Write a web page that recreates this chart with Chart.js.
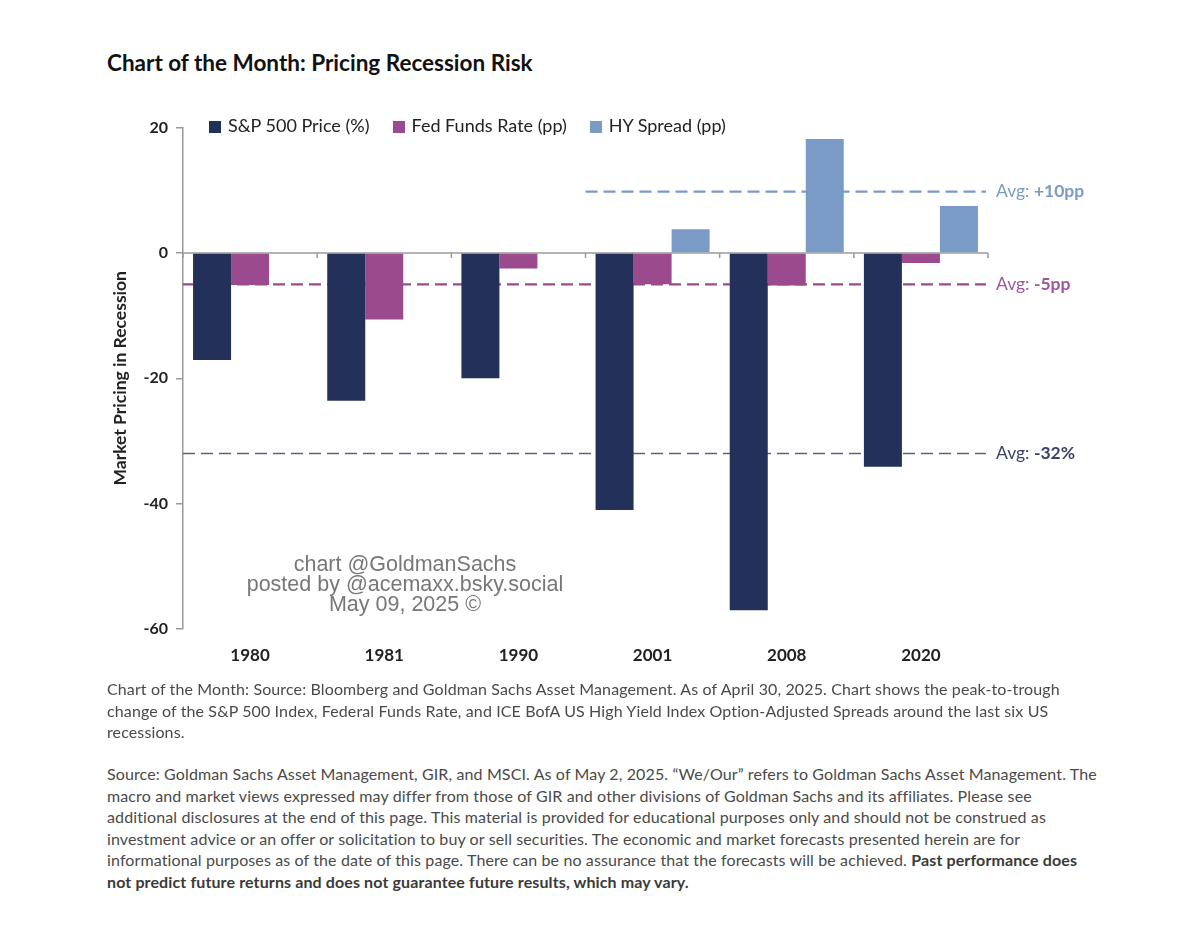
<!DOCTYPE html>
<html>
<head>
<meta charset="utf-8">
<script src="https://cdn.jsdelivr.net/npm/chart.js@4.4.1/dist/chart.umd.min.js"></script>
<style>
  html,body{margin:0;padding:0;background:#fff;}
  body{width:1199px;height:933px;position:relative;overflow:hidden;font-family:Lato,"Open Sans",sans-serif;}
  #title{position:absolute;left:107px;top:49px;font-size:22.5px;font-weight:700;color:#111;white-space:nowrap;line-height:28px;}
  #wrap{position:absolute;left:100px;top:110px;width:1000px;height:570px;}
  #legend{position:absolute;left:209px;top:113px;font-size:18px;color:#222;white-space:nowrap;line-height:24px;}
  #legend span.item{display:inline-block;margin-right:23px;}
  #legend span.sw{display:inline-block;width:12px;height:12px;margin-right:7px;vertical-align:-1px;}
  #wm{position:absolute;left:205px;top:554px;width:400px;text-align:center;font-family:"Liberation Sans",Arial,sans-serif;font-size:21.5px;line-height:20px;color:#777;}
  .cap{position:absolute;left:107px;font-size:16px;letter-spacing:0.12px;line-height:21.5px;color:#4a4a4a;white-space:nowrap;}
  .cap b{color:#3a3a3a;}
</style>
</head>
<body>
<div id="title">Chart of the Month: Pricing Recession Risk</div>
<div id="wrap"><canvas id="c"></canvas></div>
<div id="legend"></div>
<div id="wm">chart @GoldmanSachs<br>posted by @acemaxx.bsky.social<br>May 09, 2025 ©</div>
<div class="cap" id="cap1" style="top:678px;">Chart of the Month: Source: Bloomberg and Goldman Sachs Asset Management. As of April 30, 2025. Chart shows the peak-to-trough<br>change of the S&amp;P 500 Index, Federal Funds Rate, and ICE BofA US High Yield Index Option-Adjusted Spreads around the last six US<br>recessions.</div>
<div class="cap" id="cap2" style="top:763px;">Source: Goldman Sachs Asset Management, GIR, and MSCI. As of May 2, 2025. “We/Our” refers to Goldman Sachs Asset Management. The<br>macro and market views expressed may differ from those of GIR and other divisions of Goldman Sachs and its affiliates. Please see<br>additional disclosures at the end of this page. This material is provided for educational purposes only and should not be construed as<br>investment advice or an offer or solicitation to buy or sell securities. The economic and market forecasts presented herein are for<br>informational purposes as of the date of this page. There can be no assurance that the forecasts will be achieved. <b>Past performance does<br>not predict future returns and does not guarantee future results, which may vary.</b></div>
<script>
// ---- data ----
const categories = ['1980', '1981', '1990', '2001', '2008', '2020'];
const seriesNames = ['S&P 500 Price (%)', 'Fed Funds Rate (pp)', 'HY Spread (pp)'];
const spValues  = [-17.1, -23.6, -20.0, -41.0, -57.0, -34.1];
const fedValues = [-5.1, -10.6, -2.5, -5.0, -5.2, -1.6];
const hyValues  = [null, null, null, 3.8, 18.2, 7.5];
const avgValues = [-32, -5, 9.8];
const avgLabels = ['-32%', '-5pp', '+10pp'];
const yTicks = [-60, -40, -20, 0, 20];

// ---- styles ----
const colors = ['#23305a', '#9b4b8d', '#7b9bc7'];
const avgLineColors = ['#5a6482', '#9b4b8d', '#7b9bc7'];
const avgTextColors = ['#3b4466', '#a0579a', '#7b9bc7'];
const FONT = 'Lato, "Open Sans", sans-serif';

// legend (HTML)
const lg = document.getElementById('legend');
seriesNames.forEach((n, i) => {
  const s = document.createElement('span'); s.className = 'item';
  const sw = document.createElement('span'); sw.className = 'sw'; sw.style.background = colors[i];
  s.appendChild(sw); s.appendChild(document.createTextNode(n)); lg.appendChild(s);
});

const seriesData = [spValues, fedValues, hyValues];

const refPlugin = {
  id: 'refLines',
  beforeDatasetsDraw(chart) {
    const { ctx, chartArea: a, scales: { x, y } } = chart;
    ctx.save();
    const y0 = y.getPixelForValue(0);
    ctx.strokeStyle = '#9a9a9a'; ctx.lineWidth = 1.5;
    ctx.beginPath(); ctx.moveTo(a.left, y0); ctx.lineTo(a.right, y0); ctx.stroke();
    for (let i = 0; i <= categories.length; i++) {
      const px = x.getPixelForValue(i - 0.5);
      ctx.beginPath(); ctx.moveTo(px, y0); ctx.lineTo(px, y0 + 5); ctx.stroke();
    }
    ctx.setLineDash([12, 6]);
    avgValues.forEach((v, si) => {
      const first = seriesData[si].findIndex(d => d !== null);
      const xs = first === 0 ? a.left : x.getPixelForValue(first - 0.5);
      const py = y.getPixelForValue(v);
      ctx.strokeStyle = avgLineColors[si];
      ctx.lineWidth = si === 0 ? 1.6 : 2.2;
      ctx.beginPath(); ctx.moveTo(xs, py); ctx.lineTo(a.right - 2, py); ctx.stroke();
    });
    ctx.restore();
  },
  afterDraw(chart) {
    const { ctx, chartArea: a, scales: { y } } = chart;
    ctx.save();
    ctx.textBaseline = 'middle';
    avgValues.forEach((v, si) => {
      const py = y.getPixelForValue(v);
      let px = a.right + 8;
      ctx.fillStyle = avgTextColors[si];
      ctx.font = '17.5px ' + FONT;
      ctx.fillText('Avg: ', px, py);
      px += ctx.measureText('Avg: ').width;
      ctx.font = 'bold 17.5px ' + FONT;
      ctx.fillText(avgLabels[si], px, py);
    });
    ctx.restore();
  }
};

new Chart(document.getElementById('c'), {
  type: 'bar',
  data: {
    labels: categories,
    datasets: seriesNames.map((n, i) => ({
      label: n,
      data: seriesData[i],
      backgroundColor: colors[i],
      borderWidth: 0,
      categoryPercentage: 0.85,
      barPercentage: 1.0
    }))
  },
  options: {
    responsive: true,
    maintainAspectRatio: false,
    animation: false,
    layout: { padding: { left: 10, top: 15, right: 112, bottom: 0 } },
    plugins: { legend: { display: false }, tooltip: { enabled: false } },
    scales: {
      x: {
        grid: { display: false, drawTicks: false },
        border: { display: false },
        ticks: { color: '#222', font: { family: FONT, size: 17, weight: 'bold' }, padding: 16 },
        afterFit: s => { s.height = 51; }
      },
      y: {
        min: -60, max: 20,
        afterBuildTicks: s => { s.ticks = yTicks.map(v => ({ value: v })); },
        grid: { drawOnChartArea: false, drawTicks: true, tickLength: 7, color: '#9a9a9a', lineWidth: 1.5 },
        border: { display: true, color: '#9a9a9a', width: 1.5 },
        ticks: { color: '#222', font: { family: FONT, size: 16, weight: 'bold' }, padding: 8 },
        title: { display: true, text: 'Market Pricing in Recession', color: '#222', font: { family: FONT, size: 17.5, weight: 'bold' }, padding: 0 },
        afterFit: s => { s.width = 73; }
      }
    }
  },
  plugins: [refPlugin]
});
</script>
</body>
</html>
